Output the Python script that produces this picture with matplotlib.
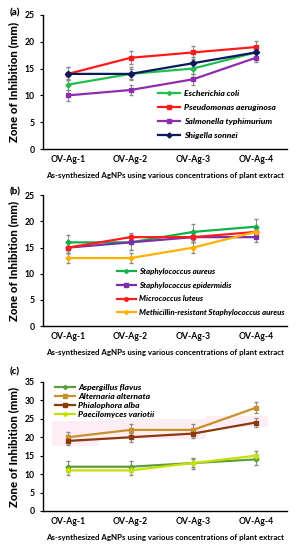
import numpy as np
import matplotlib.pyplot as plt
from matplotlib.patches import Rectangle

plt.rcParams['font.family'] = ['Lato', 'DejaVu Sans']

samples = ["OV-Ag-1", "OV-Ag-2", "OV-Ag-3", "OV-Ag-4"]
xlab = "As-synthesized AgNPs using various concentrations of plant extract"

# panel (a) - gram negative
names_a = ["Escherichia coli", "Pseudomonas aeruginosa", "Salmonella typhimurium", "Shigella sonnei"]
vals_a = [[12, 14, 15, 18], [14, 17, 18, 19], [10, 11, 13, 17], [14, 14, 16, 18]]
errs_a = [[1, 1, 1, 0.8], [1.2, 1.2, 1.2, 1.2], [1, 1, 1, 0.8], [1.2, 1.2, 1.2, 0.8]]
cols_a = ["#1fbf4f", "#ff1a1a", "#8e2cb0", "#0a1a5c"]
mk_a = ["P", "s", "s", "D"]

# panel (b) - gram positive
names_b = ["Staphylococcus aureus", "Staphylococcus epidermidis", "Micrococcus luteus",
           "Methicillin-resistant Staphylococcus aureus"]
vals_b = [[16, 16, 18, 19], [15, 16, 17, 17], [15, 17, 17, 18], [13, 13, 15, 18]]
errs_b = [[1.5, 1.5, 1.5, 1.5], [1, 1.5, 1, 1], [1, 0.8, 1, 1], [1, 1, 1, 0.6]]
cols_b = ["#12b04a", "#7a2fa8", "#ff1c1c", "#ffb000"]
mk_b = ["P", "s", "o", "P"]

# panel (c) - fungi
names_c = ["Aspergillus flavus", "Alternaria alternata", "Phialophora alba", "Paecilomyces variotii"]
vals_c = [[12, 12, 13, 14], [20, 22, 22, 28], [19, 20, 21, 24], [11, 11, 13, 15]]
errs_c = [[1.5, 1.5, 1.5, 1.5], [1.5, 1.5, 1.5, 1.5], [1.2, 1.2, 1.2, 1.2], [1.2, 1.2, 1.2, 1.2]]
cols_c = ["#5c9e3c", "#c8902a", "#8b3a0e", "#c8e000"]
mk_c = ["P", "s", "s", "P"]

fig = plt.figure(figsize=(2.96, 5.5), dpi=100)

# label, names, values, errors, colours, markers, ymax, axes rect, legend anchor,
# spacing, handle length, label y, legend font size
panels = [
    ("(a)", names_a, vals_a, errs_a, cols_a, mk_a, 25, [0.145, 0.729, 0.825, 0.244], (0.534, 0.792), 0.8, 2.6, 0.976, 6.1),
    ("(b)", names_b, vals_b, errs_b, cols_b, mk_b, 25, [0.145, 0.407, 0.825, 0.238], (0.395, 0.469), 0.85, 2.4, 0.651, 5.7),
    ("(c)", names_c, vals_c, errs_c, cols_c, mk_c, 35, [0.145, 0.071, 0.825, 0.2345], (0.186, 0.271), 0.22, 2.3, 0.324, 6.1),
]

x = np.arange(1, 5)
for lab, names, vals, errs, cols, mks, ymax, pos, lpos, lsp, hl, ly, lfs in panels:
    ax = fig.add_axes(pos)
    if lab == "(c)":
        # faint pink highlight behind the upper curves
        for x0, y0, w, h in [(0.75, 17.6, 0.75, 6.8), (1.5, 19.5, 1.7, 5.5), (3.2, 22.7, 1.0, 3.2)]:
            ax.add_patch(Rectangle((x0, y0), w, h, color="#fdeef5", lw=0, zorder=0))
    for n, v, e, c, m in zip(names, vals, errs, cols, mks):
        ax.errorbar(x, v, yerr=e, fmt="none", ecolor="#8a8a8a", elinewidth=0.7, capsize=1.5, zorder=2)
        ax.plot(x, v, color=c, marker=m, ms=3.2, lw=1.6, label=n, zorder=3)
    ax.set_xlim(0.6, 4.5)
    ax.set_ylim(0, ymax)
    ax.set_yticks(np.arange(0, ymax + 1, 5))
    ax.set_xticks(x)
    ax.set_xticklabels(samples, fontsize=6.2, fontweight="bold")
    ax.tick_params(axis="y", labelsize=6.2, length=2.5, width=0.8)
    ax.tick_params(axis="x", length=0, pad=4)
    for t in ax.get_yticklabels():
        t.set_fontweight("bold")
    ax.spines["top"].set_visible(False)
    ax.spines["right"].set_visible(False)
    ax.spines["left"].set_linewidth(1.0)
    ax.spines["bottom"].set_linewidth(1.0)
    ax.set_ylabel("Zone of Inhibition (mm)", fontsize=8.2, fontweight="black", labelpad=4)
    ax.set_xlabel(xlab, fontsize=5.7, fontweight="bold", labelpad=6)
    fig.text(0.034, ly, lab, fontsize=7, fontweight="black", va="center")
    ax.legend(loc="center left", bbox_to_anchor=lpos, bbox_transform=fig.transFigure,
              frameon=False, borderpad=0, borderaxespad=0,
              prop={"size": lfs, "style": "italic", "weight": "black"},
              handlelength=hl, labelspacing=lsp, handletextpad=0.45, markerscale=0.8)

fig.savefig("out.png", dpi=100)
